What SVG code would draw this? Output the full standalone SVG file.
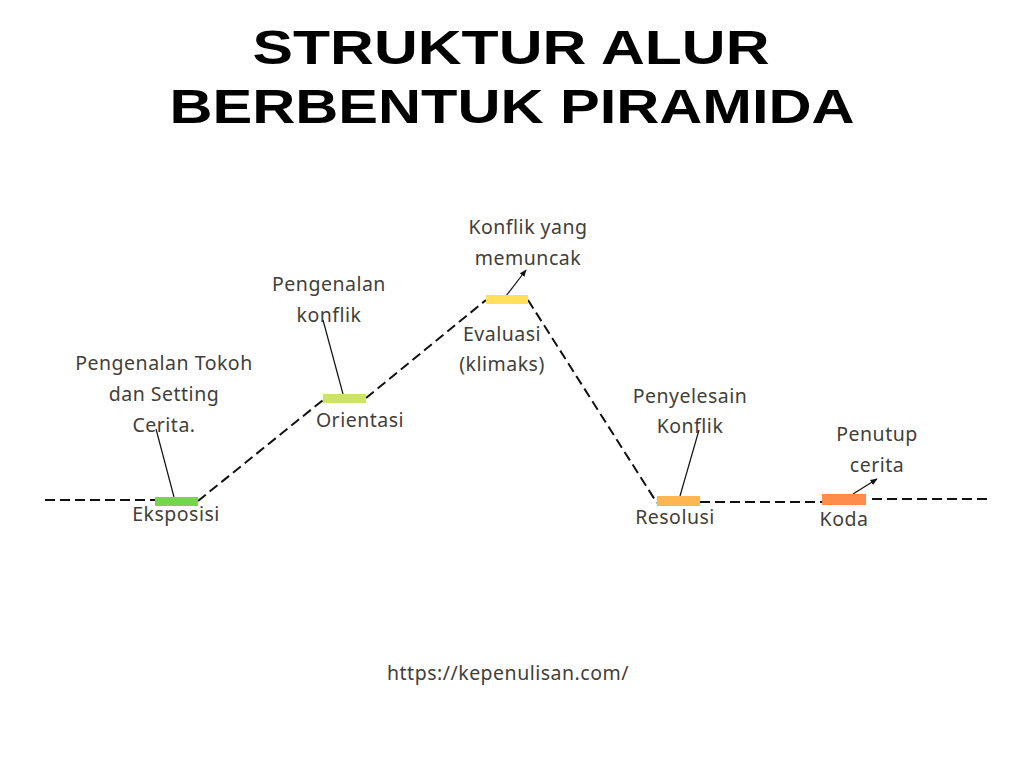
<svg xmlns="http://www.w3.org/2000/svg" width="1024" height="768" viewBox="0 0 1024 768">
<defs>
<style>
.t{font-family:"Liberation Sans",Arial,sans-serif;font-weight:bold;font-size:49px;fill:#000;text-anchor:middle}
.l{font-family:"Noto Sans","Open Sans",sans-serif;font-size:19.5px;letter-spacing:0.5px;fill:#3f4038;text-anchor:middle}
.d{fill:none;stroke:#111;stroke-width:2;stroke-dasharray:10 5}
.k{fill:none;stroke:#111;stroke-width:1.2}
</style>
<marker id="ah" viewBox="0 0 10 10" refX="9" refY="5" markerWidth="6" markerHeight="6" orient="auto"><path d="M0,1 L10,5 L0,9 z" fill="#111"/></marker>
</defs>
<rect width="1024" height="768" fill="#fff"/>
<g id="title">
<text class="t" x="511" y="64" textLength="517" lengthAdjust="spacingAndGlyphs">STRUKTUR ALUR</text>
<text class="t" x="512" y="123" textLength="685" lengthAdjust="spacingAndGlyphs">BERBENTUK PIRAMIDA</text>
</g>
<g id="connectors">
<path class="d" d="M45,500 H155"/>
<path class="d" d="M198,501 L323,400"/>
<path class="d" d="M366,398 L486,300"/>
<path class="d" d="M528,300 L657,503"/>
<path class="d" d="M700,502 H822"/>
<path class="d" d="M872,499 H992"/>
<path class="k" d="M156,429 L174,497"/>
<path class="k" d="M323,320 L343,394"/>
<path class="k" d="M506,296 L526,270" marker-end="url(#ah)"/>
<path class="k" d="M680,496 L699,430"/>
<path class="k" d="M853,494 L877,479" marker-end="url(#ah)"/>
</g>
<g id="eksposisi">
<rect x="155" y="497" width="43" height="9" fill="#78d34f"/>
<text class="l" x="176" y="521">Eksposisi</text>
<text class="l" x="164" y="370">Pengenalan Tokoh</text>
<text class="l" x="164" y="401">dan Setting</text>
<text class="l" x="164" y="432">Cerita.</text>
</g>
<g id="orientasi">
<rect x="323" y="394" width="43" height="9" fill="#cde26a"/>
<text class="l" x="360" y="427">Orientasi</text>
<text class="l" x="329" y="291">Pengenalan</text>
<text class="l" x="329" y="322">konflik</text>
</g>
<g id="evaluasi">
<rect x="486" y="295" width="42" height="9" fill="#ffdf5c"/>
<text class="l" x="502" y="341">Evaluasi</text>
<text class="l" x="502" y="371">(klimaks)</text>
<text class="l" x="528" y="234">Konflik yang</text>
<text class="l" x="528" y="265">memuncak</text>
</g>
<g id="resolusi">
<rect x="657" y="496" width="43" height="10" fill="#ffb650"/>
<text class="l" x="675" y="524">Resolusi</text>
<text class="l" x="690" y="403">Penyelesain</text>
<text class="l" x="690" y="433">Konflik</text>
</g>
<g id="koda">
<rect x="822" y="494" width="44" height="11" fill="#ff8c4a"/>
<text class="l" x="844" y="526">Koda</text>
<text class="l" x="877" y="441">Penutup</text>
<text class="l" x="877" y="472">cerita</text>
</g>
<text class="l" x="508" y="680">https://kepenulisan.com/</text>
</svg>
